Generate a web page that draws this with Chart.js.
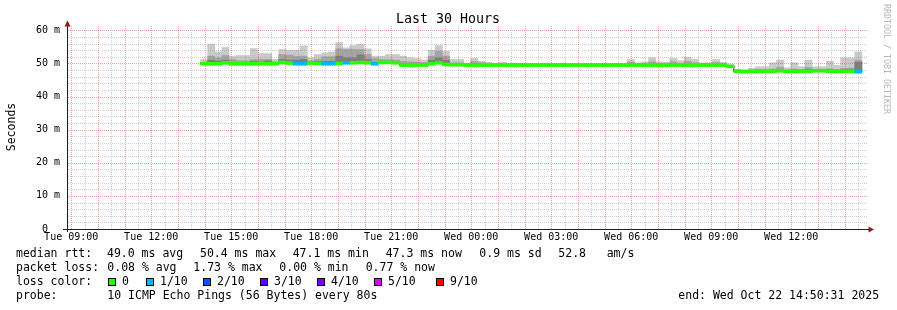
<!DOCTYPE html>
<html><head><meta charset="utf-8">
<script src="https://cdn.jsdelivr.net/npm/chart.js@4/dist/chart.umd.min.js"></script>
<style>html,body{margin:0;padding:0;background:#fff;}canvas{display:block;}</style>
</head><body>
<canvas id="c" width="897" height="310"></canvas>
<script>
// ---------------- data ----------------
const rangeStartHour = 8 + 50/60 + 31/3600;   // Tue 08:50:31 (hours since Tue 00:00)
const rangeHours = 30;
const firstBlockHour = 13.85;                  // first 16-min consolidated block
const blockHours = 16/60;

const medianMs = [
 49.9,49.9,49.9,50.2,49.9,49.9,49.9,49.9,49.9,49.9,
 49.9,50.3,50.1,49.9,49.9,50.1,50.0,49.9,49.9,50.0,
 50.2,50.2,50.3,50.2,49.9,50.3,50.3,50.2,49.5,49.5,
 49.5,49.5,49.9,50.2,49.7,49.6,49.6,49.5,49.5,49.5,
 49.5,49.5,49.5,49.5,49.5,49.5,49.5,49.5,49.5,49.5,
 49.5,49.5,49.5,49.5,49.5,49.5,49.5,49.5,49.5,49.5,
 49.5,49.5,49.5,49.5,49.4,49.5,49.5,49.5,49.5,49.5,
 49.5,49.5,49.5,49.5,49.1,47.6,47.5,47.6,47.6,47.6,
 47.6,47.8,47.6,47.6,47.6,47.6,47.8,47.8,47.6,47.6,
 47.6,47.6,47.5];
const lossCount = [
 0,0,0,0,0,0,0,0,0,0,
 0,0,0,1,1,0,0,1,1,0,
 1,0,0,0,1,0,0,0,0,0,
 0,0,0,0,0,0,0,0,0,0,
 0,0,0,0,0,0,0,0,0,0,
 0,0,0,0,0,0,0,0,0,0,
 0,0,0,0,0,0,0,0,0,0,
 0,0,0,0,0,0,0,0,0,0,
 0,0,0,0,0,0,0,0,0,0,
 0,0,1];
const smokeMax = [
 51.2,55.8,53.5,54.8,52.1,52.4,52.4,54.5,53.0,53.0,
 51.2,54.2,54.0,54.0,55.3,51.7,52.7,53.2,53.5,56.3,
 54.7,55.4,55.8,54.4,52.2,52.2,52.7,52.7,52.2,51.7,
 51.5,51.0,54.0,55.4,53.7,51.2,51.2,50.1,51.5,50.7,
 50.3,50.1,50.4,50.1,50.1,50.0,50.0,49.9,49.9,49.9,
 49.9,49.9,49.9,49.9,49.9,49.9,49.9,49.9,49.9,49.9,
 51.2,50.2,50.5,51.7,50.5,50.4,51.5,50.8,51.8,51.2,
 50.2,50.2,51.2,50.3,49.5,48.2,48.0,48.5,49.0,49.0,
 50.2,51.0,48.7,50.2,49.0,51.0,49.0,49.0,50.7,49.4,
 51.7,51.7,53.5];
const smokeMid = [
 50.4,52.2,51.7,52.4,51.2,50.8,50.8,51.2,51.2,51.2,
 50.5,52.7,52.5,52.2,52.2,50.8,51.2,52.0,52.0,54.4,
 54.2,54.2,54.2,52.7,51.5,51.2,51.2,51.0,50.6,50.5,
 50.4,50.3,52.2,53.7,52.2,50.2,50.2,50.0,50.6,50.2,
 49.9,49.9,49.9,49.9,49.9,49.9,49.9,49.9,49.9,49.9,
 49.9,49.9,49.9,49.9,49.9,49.9,49.9,49.9,49.9,49.9,
 50.4,50.0,50.0,50.5,50.0,50.0,50.5,50.0,50.6,50.2,
 50.0,50.0,50.3,50.0,49.5,48.0,48.0,48.0,48.2,48.2,
 48.3,48.8,48.0,48.3,48.2,48.8,48.2,48.2,48.4,48.2,
 48.5,48.6,51.0];
const smokeDark = [
 50.0,51.0,50.7,51.0,50.3,50.2,50.2,50.6,50.4,50.8,
 50.1,51.2,51.0,51.0,51.2,50.3,50.6,50.6,50.6,52.2,
 51.7,51.7,52.6,51.2,50.3,50.6,50.5,50.4,49.9,49.8,
 49.8,49.8,51.0,51.7,51.0,49.8,49.8,49.7,50.0,49.7,
 49.7,49.7,49.7,49.7,49.7,49.7,49.7,49.7,49.7,49.7,
 49.7,49.7,49.7,49.7,49.7,49.7,49.7,49.7,49.7,49.7,
 49.8,49.7,49.7,49.8,49.6,49.7,49.8,49.7,49.8,49.7,
 49.7,49.7,49.7,49.7,49.3,47.9,47.8,47.9,47.9,47.9,
 48.0,48.2,47.9,48.0,47.9,48.2,48.0,48.0,48.0,47.9,
 48.0,48.1,50.4];

const yMinorStep = 2, yMajorStep = 10, yTop = 60;
const xMinorHours = 0.5, xMajorHours = 1, xLabelEveryHours = 3;

const lossLegend = [['0','#26ff00'],['1/10','#00b8ff'],['2/10','#0059ff'],['3/10','#5e00ff'],['4/10','#7e00ff'],['5/10','#dd00ff'],['9/10','#ff0000']];
const lossColorByCount = {0:'#26ff00',1:'#00b8ff',2:'#0059ff',3:'#5e00ff',4:'#7e00ff',5:'#dd00ff',9:'#ff0000'};

const titleText = 'Last 30 Hours';
const yTitle = 'Seconds';
const legendRtt = ['median rtt:','49.0 ms avg','50.4 ms max','47.1 ms min','47.3 ms now','0.9 ms sd','52.8','am/s'];
const legendLoss = ['packet loss:','0.08 % avg','1.73 % max','0.00 % min','0.77 % now'];
const legendProbe = ['probe:','10 ICMP Echo Pings (56 Bytes) every 80s'];
const endText = 'end: Wed Oct 22 14:50:31 2025';
const watermark = 'RRDTOOL / TOBI OETIKER';

// ---------------- build ----------------
const FONT = "'DejaVu Sans Mono', monospace";
const centers = medianMs.map((_, i) => firstBlockHour + (i + 0.5) * blockHours);
const floatSet = (top) => centers.map((x, i) => ({x, y: [medianMs[i], top[i]]}));
const BAND = 0.45;
const lossBand = centers.map((x, i) => ({x, y: [medianMs[i] - BAND, medianMs[i] + BAND]}));
const medLine = medianMs.map((v, i) => ({x: firstBlockHour + i * blockHours, y: v}));
medLine.push({x: firstBlockHour + medianMs.length * blockHours, y: medianMs[medianMs.length - 1]});

const xEnd = rangeStartHour + rangeHours;
const xTickVals = [];
for (let h = Math.ceil(rangeStartHour / xMinorHours) * xMinorHours; h <= xEnd; h += xMinorHours) xTickVals.push(h);
const yTickVals = [];
for (let v = 0; v <= yTop; v += yMinorStep) yTickVals.push(v);

const MAJOR = 'rgba(235,70,70,0.5)';
const MINOR = 'rgba(140,140,140,0.42)';

function fmtHour(h) {
  const day = h >= 24 ? 'Wed' : 'Tue';
  const hh = Math.round(h % 24);
  return day + ' ' + String(hh).padStart(2, '0') + ':00';
}
const isMult = (v, m) => Math.abs(v / m - Math.round(v / m)) < 1e-6;

const barCommon = {type: 'bar', grouped: false, barPercentage: 1, categoryPercentage: 1, borderWidth: 0};

function drawGrid(chart) {
  const ctx = chart.ctx;
  const {left, right, top, bottom} = chart.chartArea;
  const xs = chart.scales.x, ys = chart.scales.y;
  ctx.save();
  for (const major of [false, true]) {
    ctx.fillStyle = major ? MAJOR : MINOR;
    for (const v of xTickVals) {
      if (isMult(v, xMajorHours) !== major) continue;
      const px = Math.round(xs.getPixelForValue(v));
      for (let y = top; y < bottom; y += 2) ctx.fillRect(px, y, 1, 1);
    }
    for (const v of yTickVals) {
      if (v === 0) continue;
      if (isMult(v, yMajorStep) !== major) continue;
      const py = Math.round(ys.getPixelForValue(v));
      for (let x = left + 1; x < right; x += 2) ctx.fillRect(x, py, 1, 1);
    }
  }
  ctx.restore();
}

const gridPlugin = {
  id: 'rrdgrid',
  beforeDatasetDraw(chart, args) {
    if (args.index === 1) drawGrid(chart);   // grid over the smoke, under the median
  }
};

const deco = {
  id: 'deco',
  afterDraw(chart) {
    const ctx = chart.ctx;
    const {left, right, top, bottom} = chart.chartArea;
    ctx.save();
    ctx.strokeStyle = '#202020';
    ctx.lineWidth = 1;
    ctx.beginPath();
    ctx.moveTo(left + 0.5, top - 1); ctx.lineTo(left + 0.5, bottom + 3);
    ctx.moveTo(left - 4, bottom + 0.5); ctx.lineTo(right + 2, bottom + 0.5);
    ctx.stroke();
    ctx.fillStyle = '#8b1a1a';
    ctx.beginPath();
    ctx.moveTo(left - 2.5, top + 0.5); ctx.lineTo(left + 3.5, top + 0.5); ctx.lineTo(left + 0.5, top - 5.5); ctx.closePath(); ctx.fill();
    ctx.beginPath();
    ctx.moveTo(right + 1.5, bottom - 2.5); ctx.lineTo(right + 1.5, bottom + 3.5); ctx.lineTo(right + 7, bottom + 0.5); ctx.closePath(); ctx.fill();

    ctx.fillStyle = '#000';
    ctx.textBaseline = 'middle';
    ctx.textAlign = 'center';
    ctx.font = '13.3px ' + FONT;
    ctx.fillText(titleText, 448, 20);
    ctx.save();
    ctx.translate(12, 127);
    ctx.rotate(-Math.PI / 2);
    ctx.font = '11.5px ' + FONT;
    ctx.fillText(yTitle, 0, 0);
    ctx.restore();
    ctx.save();
    ctx.translate(886, 4);
    ctx.rotate(Math.PI / 2);
    ctx.textAlign = 'left';
    ctx.fillStyle = '#b8b8b8';
    ctx.font = '8.3px ' + FONT;
    ctx.fillText(watermark, 0, 0);
    ctx.restore();

    ctx.textAlign = 'left';
    ctx.font = '11.5px ' + FONT;
    const rttX = [16, 107, 200, 292.7, 385.7, 479.3, 558.3, 606.7];
    legendRtt.forEach((t, i) => ctx.fillText(t, rttX[i], 254));
    const lossX = [16, 107.3, 193.3, 279.3, 365.7];
    legendLoss.forEach((t, i) => ctx.fillText(t, lossX[i], 268));
    ctx.fillText('loss color:', 16, 282);
    const boxX = [108, 145.7, 203, 260.3, 317.3, 374.3, 436];
    lossLegend.forEach(([lab, col], i) => {
      const bx = Math.round(boxX[i]);
      ctx.fillStyle = col;
      ctx.fillRect(bx, 278, 8, 8);
      ctx.strokeStyle = '#000';
      ctx.strokeRect(bx + 0.5, 278.5, 7, 7);
      ctx.fillStyle = '#000';
      ctx.fillText(lab, bx + 14, 282);
    });
    ctx.fillText(legendProbe[0], 16, 296);
    ctx.fillText(legendProbe[1], 107.3, 296);
    ctx.fillText(endText, 678.3, 296);
    ctx.restore();
  }
};

Chart.defaults.font.family = FONT;
Chart.defaults.color = '#000';

new Chart(document.getElementById('c'), {
  type: 'bar',
  data: {
    datasets: [
      {...barCommon, label: 'loss', data: lossBand, order: 1,
        backgroundColor: lossCount.map(c => lossColorByCount[c] || '#ff0000')},
      {type: 'line', label: 'median', data: medLine, order: 2, stepped: true,
        borderColor: '#202020', borderWidth: 1, pointRadius: 0, fill: false},
      {...barCommon, label: 'smoke3', data: floatSet(smokeDark), order: 3, backgroundColor: '#7e7e7e'},
      {...barCommon, label: 'smoke2', data: floatSet(smokeMid), order: 4, backgroundColor: '#a4a4a4'},
      {...barCommon, label: 'smoke1', data: floatSet(smokeMax), order: 5, backgroundColor: '#cacaca'}
    ]
  },
  options: {
    responsive: false,
    animation: false,
    devicePixelRatio: 1,
    layout: {padding: {left: 0, right: 30, top: 26, bottom: 0}},
    plugins: {legend: {display: false}, tooltip: {enabled: false}},
    scales: {
      x: {
        type: 'linear', min: rangeStartHour, max: xEnd, offset: false,
        afterBuildTicks: (s) => { s.ticks = xTickVals.filter(v => isMult(v, xLabelEveryHours)).map(v => ({value: v})); },
        afterFit: (s) => { s.height = 81; },
        ticks: {autoSkip: false, maxRotation: 0, minRotation: 0, padding: 2, font: {size: 10},
          callback: (v) => fmtHour(v)},
        grid: {display: false, drawTicks: false, offset: false},
        border: {display: false}
      },
      y: {
        type: 'linear', min: 0, max: 61.3,
        afterBuildTicks: (s) => { s.ticks = yTickVals.filter(v => isMult(v, yMajorStep)).map(v => ({value: v})); },
        afterFit: (s) => { s.width = 67; },
        ticks: {autoSkip: false, padding: 7, font: {size: 10},
          callback: (v) => v === 0 ? '0  ' : v + ' m'},
        grid: {display: false, drawTicks: false},
        border: {display: false}
      }
    }
  },
  plugins: [gridPlugin, deco]
});
</script>
</body></html>
